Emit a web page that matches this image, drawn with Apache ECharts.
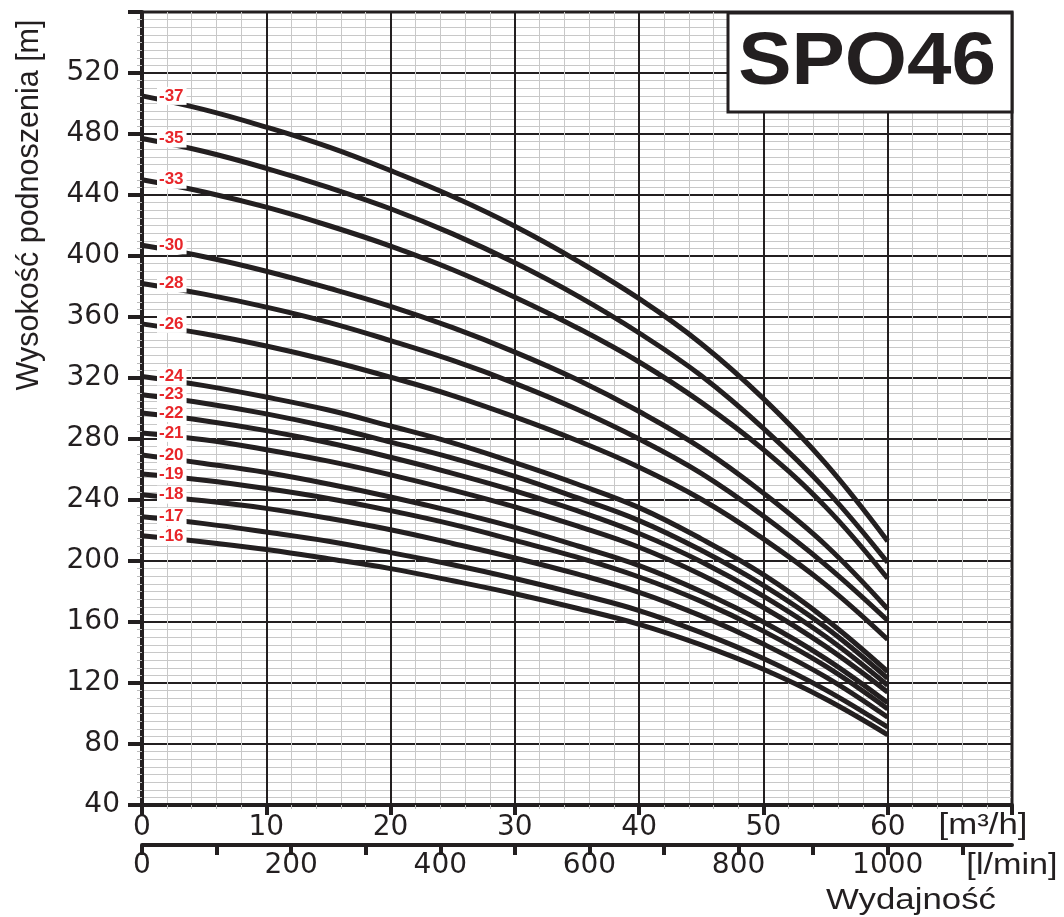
<!DOCTYPE html>
<html>
<head>
<meta charset="utf-8">
<script src="https://cdn.jsdelivr.net/npm/echarts@6/dist/echarts.min.js"></script>
<style>html,body{margin:0;padding:0;background:#fff;}#c{width:1064px;height:917px;}</style>
</head>
<body>
<div id="c"></div>
<script>
// Flow rate [m3/h] sample positions
const flow = [0, 5, 10, 15, 20, 25, 30, 35, 40, 45, 50, 55, 60];
// Stage labels
const stageNames = ['-37', '-35', '-33', '-30', '-28', '-26', '-24', '-23', '-22', '-21', '-20', '-19', '-18', '-17', '-16'];
// Head [m] per curve
const h37 = [505, 496, 484.5, 471.5, 456, 439, 419.5, 397, 372, 342.5, 306.5, 264, 213];
const h35 = [477, 468.5, 457.5, 445, 431, 414.5, 395.5, 374, 349.5, 321.5, 287, 247, 199];
const h33 = [450, 442, 432, 420, 406.5, 391, 373, 353, 330.5, 304, 273, 235.5, 188.5];
const h30 = [407, 399.5, 390, 379, 367, 353, 337, 319, 298, 274, 244.5, 210.5, 168.5];
const h28 = [382, 375, 366.5, 356.5, 344.5, 331.5, 316.5, 299.5, 280, 257.5, 229.5, 197.5, 161];
const h26 = [355.5, 349, 341, 331.5, 320.5, 308.5, 294.5, 279, 261.5, 240.5, 214.5, 184.5, 148.5];
const h24 = [321, 315, 307.5, 299, 288.5, 277.5, 264.5, 250.5, 235, 214.5, 191, 162, 127.5];
const h23 = [309, 303.5, 296.5, 288, 278, 267.5, 255.5, 241.5, 226.5, 207, 184, 156.5, 123];
const h22 = [297, 292, 285.5, 277.5, 268, 257.5, 246, 233, 218, 199.5, 177, 150.5, 118.5];
const h21 = [284, 279.5, 273, 265.5, 256.5, 246.5, 235.5, 223, 209, 191, 169.5, 144, 114];
const h20 = [269.5, 264, 258, 250.5, 242, 232.5, 222, 210, 197, 180, 160, 136, 107];
const h19 = [257, 253, 247.5, 241, 233, 224, 213.5, 202.5, 189.5, 173.5, 154, 131, 103];
const h18 = [243.5, 239.5, 234.5, 228, 220.5, 211.5, 202, 191.5, 179.5, 164, 145.5, 124, 97.5];
const h17 = [229, 224.5, 219, 213, 205.5, 197.5, 188.5, 178.5, 167.5, 153, 136, 115.5, 91];
const h16 = [216.5, 212.5, 207.5, 201.5, 195, 187, 178.5, 169, 158.5, 145, 129, 109.5, 86];
const heads = [h37, h35, h33, h30, h28, h26, h24, h23, h22, h21, h20, h19, h18, h17, h16];
// Tick labels
const m3hLabels = [0, 10, 20, 30, 40, 50, 60];
const lminLabels = [0, 200, 400, 600, 800, 1000];
const headLabels = [40, 80, 120, 160, 200, 240, 280, 320, 360, 400, 440, 480, 520];

const dark = '#231f20';
const red = '#e8262a';
const font = 'Liberation Sans, Arial, sans-serif';
const tickFont = 'DejaVu Sans, sans-serif';

const series = heads.map((h, si) => ({
  type: 'line',
  name: stageNames[si],
  smooth: 0.4,
  showSymbol: true,
  symbol: 'circle',
  symbolSize: 0,
  lineStyle: { color: dark, width: 5 },
  itemStyle: { color: dark },
  label: { show: false },
  emphasis: { disabled: true },
  silent: true,
  data: flow.map((x, i) => {
    const item = { value: [x, h[i]] };
    if (i === 0) {
      item.label = {
        show: true, position: 'right', distance: 15,
        formatter: stageNames[si], color: red, fontWeight: 'bold',
        fontSize: 17, fontFamily: font, backgroundColor: '#fff', padding: [1, 3, 0, 2]
      };
    }
    return item;
  })
}));

const chart = echarts.init(document.getElementById('c'), null, { renderer: 'canvas' });
chart.setOption({
  animation: false,
  backgroundColor: '#fff',
  grid: { left: 142, right: 52, top: 12, bottom: 112, show: true, borderColor: dark, borderWidth: 3 },
  xAxis: [{
    type: 'value', min: 0, max: 70, interval: 10,
    axisLine: { show: true, onZero: false, lineStyle: { color: dark, width: 4 } },
    axisTick: { show: true, length: 10, lineStyle: { color: dark, width: 4 } },
    minorTick: { show: true, splitNumber: 5, length: 4, lineStyle: { color: '#bbb', width: 1 } },
    axisLabel: {
      margin: 9, fontSize: 28, fontFamily: tickFont, color: dark,
      formatter: v => (m3hLabels.indexOf(v) >= 0 ? String(v) : '')
    },
    splitLine: { show: true, lineStyle: { color: dark, width: 2 } },
    minorSplitLine: { show: true, lineStyle: { color: '#c8c8c8', width: 1 } }
  }, {
    type: 'value', min: 0, max: 70 * 1000 / 60, interval: 100, position: 'bottom', offset: 40,
    axisLine: { show: true, onZero: false, lineStyle: { color: dark, width: 4 } },
    axisTick: { show: true, length: 10, lineStyle: { color: dark, width: 4 } },
    axisLabel: {
      margin: 7, fontSize: 28, fontFamily: tickFont, color: dark, showMaxLabel: false,
      formatter: v => (lminLabels.indexOf(v) >= 0 ? String(v) : '')
    },
    splitLine: { show: false }
  }],
  yAxis: {
    type: 'value', min: 40, max: 560, interval: 40,
    axisLine: { show: true, onZero: false, lineStyle: { color: dark, width: 4 } },
    axisTick: { show: true, length: 14, lineStyle: { color: dark, width: 4 } },
    minorTick: { show: true, splitNumber: 8, length: 5, lineStyle: { color: '#bbb', width: 1 } },
    axisLabel: {
      margin: 22, fontSize: 28, fontFamily: tickFont, color: dark,
      formatter: v => (headLabels.indexOf(v) >= 0 ? String(v) : '')
    },
    splitLine: { show: true, lineStyle: { color: dark, width: 2 } },
    minorSplitLine: { show: true, lineStyle: { color: '#c8c8c8', width: 1 } }
  },
  graphic: [
    { type: 'rect', z: 100, shape: { x: 728, y: 13, width: 284, height: 99 },
      style: { fill: '#fff', stroke: dark, lineWidth: 3 } },
    { type: 'text', z: 101, x: 867, y: 64, scaleX: 1.08,
      style: { text: 'SPO46', font: 'bold 74px ' + font, fill: dark, textAlign: 'center', textVerticalAlign: 'middle' } },
    { type: 'text', z: 101, x: 30, y: 205, rotation: Math.PI / 2,
      style: { text: 'Wysokość podnoszenia [m]', font: '30.5px ' + font, fill: dark, textAlign: 'center', textVerticalAlign: 'middle' } },
    { type: 'text', z: 101, x: 983, y: 826, scaleX: 1.2,
      style: { text: '[m³/h]', font: '29px ' + font, fill: dark, textAlign: 'center', textVerticalAlign: 'middle' } },
    { type: 'text', z: 101, x: 1012, y: 866, scaleX: 1.18,
      style: { text: '[l/min]', font: '29px ' + font, fill: dark, textAlign: 'center', textVerticalAlign: 'middle' } },
    { type: 'text', z: 101, x: 911, y: 901, scaleX: 1.2,
      style: { text: 'Wydajność', font: '29px ' + font, fill: dark, textAlign: 'center', textVerticalAlign: 'middle' } }
  ],
  series: series
});
</script>
</body>
</html>
